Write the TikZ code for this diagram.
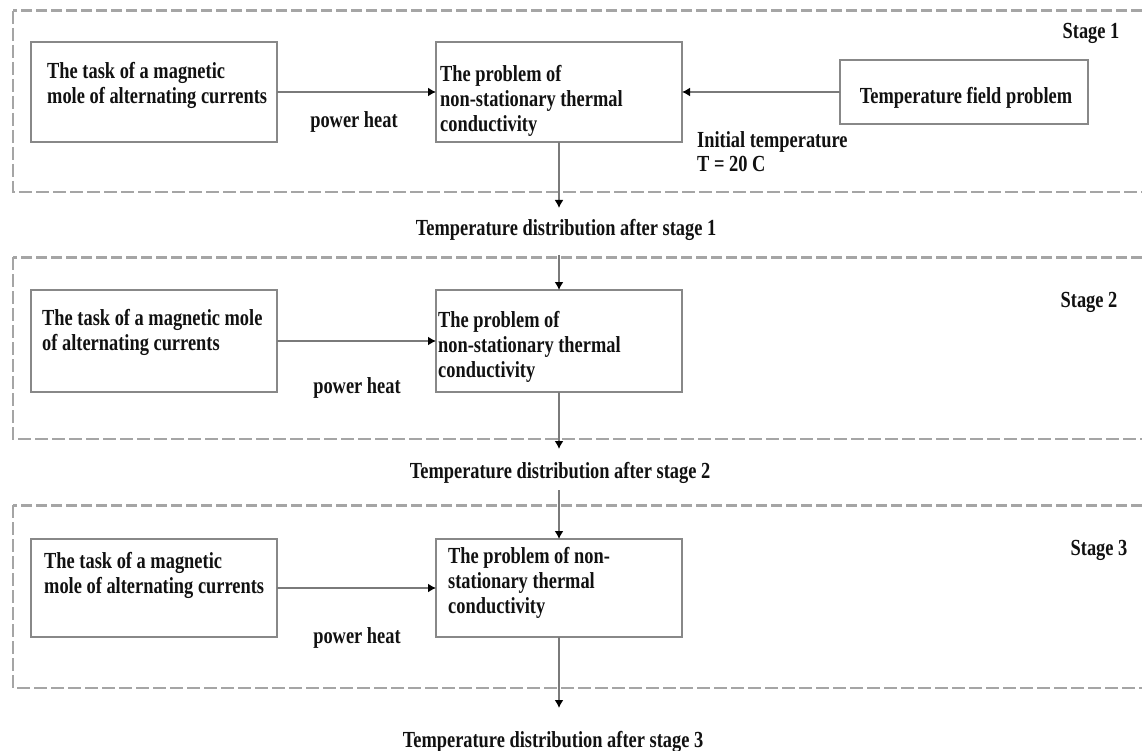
\documentclass[tikz,border=0pt]{standalone}
\usepackage{fontspec}
\setmainfont{Liberation Serif}[FakeStretch=0.8]
\usetikzlibrary{arrows.meta}
\definecolor{boxgray}{HTML}{888888}
\definecolor{linegray}{HTML}{7A7A7A}
\definecolor{dashgray}{HTML}{A5A5A5}
\definecolor{ink}{HTML}{111111}
\begin{document}
\begin{tikzpicture}[x=1pt,y=-1pt,
  stagebox/.style={draw=boxgray,line width=2.8pt,fill=white,minimum height=100pt,inner sep=0pt,outer sep=0pt,anchor=north west},
  wbox/.style={stagebox,minimum width=246pt},
  txt/.style={inner sep=0pt,align=left,text=ink,anchor=north west,font=\bfseries\fontsize{23}{25}\selectfont},
  lbl/.style={inner sep=0pt,text=ink,font=\bfseries\fontsize{23}{24}\selectfont},
  frametop/.style={draw=dashgray,line width=3pt,dash pattern=on 11pt off 4pt},
  frameside/.style={draw=dashgray,line width=2pt,dash pattern=on 13pt off 4pt},
  conn/.style={draw=linegray,line width=2.4pt,-{Latex[length=8pt,width=9pt,color=black]}},
]
\useasboundingbox[fill=white] (0,0) rectangle (1142,751);

% ---------- dashed stage frames ----------
\draw[frametop] (1142,11) -- (13,11);
\draw[frameside] (13,11) -- (13,192) -- (1142,192);
\draw[frametop] (1142,257) -- (13,257);
\draw[frameside] (13,257) -- (13,439) -- (1142,439);
\draw[frametop] (1142,505) -- (13,505);
\draw[frameside] (13,505) -- (13,688) -- (1142,688);

% ---------- stage 1 ----------
\node[wbox] (a1) at (31,42) {};
\node[wbox] (b1) at (436,42) {};
\node[stagebox,minimum width=248pt,minimum height=64pt] (c1) at (840,60) {};
\node[txt] (ta1) at (47,62) {The task of a magnetic\\mole of alternating currents};
\node[txt] (tb1) at (440,65) {The problem of\\non-stationary thermal\\conductivity};
\node[lbl] (tc1) at (966,98) {Temperature field problem};
\node[lbl] (ph1) at (354,122) {power heat};
\node[lbl,align=left,anchor=north west] (it1) at (697,131) {Initial temperature\\T = 20 C};
\node[lbl] (st1) at (1091,33) {Stage 1};
\coordinate (d1) at (559,208);
\node[lbl] (td1) at (566,230) {Temperature distribution after stage 1};
\draw[conn] (a1.east) -- (b1.west);
\draw[conn] (c1.west) -- (b1.east);
\draw[conn] (b1.south) -- (d1);

% ---------- stage 2 ----------
\node[wbox,minimum height=102pt] (a2) at (31,290) {};
\node[wbox,minimum height=102pt] (b2) at (436,290) {};
\node[txt] (ta2) at (42,309) {The task of a magnetic mole\\of alternating currents};
\node[txt] (tb2) at (438,311) {The problem of\\non-stationary thermal\\conductivity};
\node[lbl] (ph2) at (357,388) {power heat};
\node[lbl] (st2) at (1089,302) {Stage 2};
\coordinate (s2) at (559,255);
\coordinate (d2) at (559,449);
\node[lbl] (td2) at (560,473) {Temperature distribution after stage 2};
\draw[conn] (s2) -- (b2.north);
\draw[conn] (a2.east) -- (b2.west);
\draw[conn] (b2.south) -- (d2);

% ---------- stage 3 ----------
\node[wbox,minimum height=98pt] (a3) at (31,539) {};
\node[wbox,minimum height=98pt] (b3) at (436,539) {};
\node[txt] (ta3) at (44,552) {The task of a magnetic\\mole of alternating currents};
\node[txt] (tb3) at (448,547) {The problem of non-\\stationary thermal\\conductivity};
\node[lbl] (ph3) at (357,638) {power heat};
\node[lbl] (st3) at (1099,550) {Stage 3};
\coordinate (s3) at (559,490);
\coordinate (d3) at (559,708);
\node[lbl] (td3) at (553,742) {Temperature distribution after stage 3};
\draw[conn] (s3) -- (b3.north);
\draw[conn] (a3.east) -- (b3.west);
\draw[conn] (b3.south) -- (d3);
\end{tikzpicture}
\end{document}
